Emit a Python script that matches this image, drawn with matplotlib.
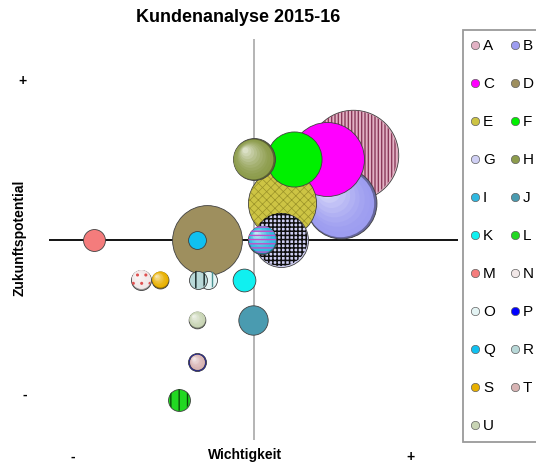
import numpy as np
import matplotlib.pyplot as plt
from matplotlib.lines import Line2D
from matplotlib import transforms
from matplotlib import colors as mcolors

plt.rcParams['font.family'] = ['Liberation Sans', 'DejaVu Sans']

# Kunden mit Wichtigkeit (x), Zukunftspotential (y) und Umsatz (Blasengröße)
kunden = ['A', 'B', 'C', 'D', 'E', 'F', 'G', 'H', 'I', 'J', 'K',
          'L', 'M', 'N', 'O', 'P', 'Q', 'R', 'S', 'T', 'U']
wichtigkeit = [2.43, 2.14, 1.80, -1.14, 0.70, 0.99, 0.67, 0.01, 0.21, -0.01, -0.23,
               -1.82, -3.90, -2.75, -1.11, -1.38, -1.38, -1.36, -2.29, -1.38, -1.38]
potential = [2.1, 0.9, 2.0, 0.0, 0.9, 2.0, 0.0, 2.0, 0.0, -2.0, -1.0,
             -4.0, 0.0, -1.0, -1.0, -3.05, 0.0, -1.0, -1.0, -3.05, -2.0]
umsatz = [205, 126, 137, 122, 116, 76, 73, 44, 20, 21.6, 13,
          12, 12, 10, 8.1, 8.1, 8, 8.1, 7.2, 6.1, 7]

# Darstellung: Farbe, Muster, Musterfarbe, Kugel-Effekt
farben = ['#e2b2c4', '#9d9df0', '#ff00ff', '#9e8f5e', '#cdc444', '#00f000', '#d0d0f4',
          '#8d9c4c', '#30b8e0', '#4a9bb0', '#10f0f0', '#22d822', '#f47c7c', '#f2e8e8',
          '#e4f4f4', '#0000ff', '#10c0f0', '#b8d8d8', '#e8b000', '#d8b4b4', '#c8d4b4']
muster = ['|||||', None, None, None, 'xxxx', None, '++++', None, '----', None, None,
          '||', None, '..', '||', None, None, '||', None, None, None]
musterfarbe = ['#8a3a5a', None, None, None, '#9a9228', None, '#101010', None, '#c050c8', None, None,
               '#0a4a0a', None, '#e05050', '#4a9090', None, None, '#102020', None, None, None]
musterbreite = [1.0, 0, 0, 0, 0.5, 0, 1.1, 0, 1.0, 0, 0,
                1.0, 0, 1.0, 1.0, 0, 0, 1.0, 0, 0, 0]
kugel = [False, True, False, False, False, False, False, True, True, False, False,
         False, False, True, False, False, False, False, True, True, True]

fig = plt.figure(figsize=(5.36, 4.70), dpi=100)
ax = fig.add_axes([49 / 536, 1 - 440 / 470, 409 / 536, 401 / 470])
ax.set_xlim(-5, 5)
ax.set_ylim(-5, 5)
for sp in ax.spines.values():
    sp.set_visible(False)

ax.axhline(0, color='black', lw=1.3, zorder=1)
ax.axvline(0, color='#a8a8a8', lw=1.2, zorder=1)

skala = 20.7


def zeichne_kugel(x, y, s, farbe, z):
    base = np.array(mcolors.to_rgb(farbe))
    r_pt = np.sqrt(s) / 2
    ax.scatter([x], [y], s=s, color=base * 0.65, edgecolors='#404040', linewidths=0.6, zorder=z)
    n = 10
    for k in range(n):
        f = 0.95 - 0.9 * k / n
        c = base + (1 - base) * (k / n) ** 1.5 * 0.8
        d = (1 - f) * r_pt * 0.5 / 72
        off = transforms.ScaledTranslation(-d, d, fig.dpi_scale_trans)
        ax.scatter([x], [y], s=s * f ** 2, color=c, linewidths=0,
                   zorder=z + 0.01 * (k + 1), transform=ax.transData + off)


# Reihenfolge wie die Datenreihen: spätere Kunden liegen oben
for i in range(len(kunden)):
    z = 2 + i * 0.2
    s = umsatz[i] * skala
    if kugel[i]:
        zeichne_kugel(wichtigkeit[i], potential[i], s, farben[i], z)
    else:
        ax.scatter([wichtigkeit[i]], [potential[i]], s=s, color=farben[i],
                   edgecolors='#404040', linewidths=0.6, zorder=z)
    if muster[i]:
        with plt.rc_context({'hatch.color': musterfarbe[i], 'hatch.linewidth': musterbreite[i]}):
            ax.scatter([wichtigkeit[i]], [potential[i]], s=s * 0.97, facecolors=(1, 1, 1, 0),
                       edgecolors=musterfarbe[i], linewidths=0, hatch=muster[i], zorder=z + 0.15)

ax.set_xticks([-4.41, 3.83], ['-', '+'], fontweight='bold', fontsize=10)
ax.set_yticks([4.0, -3.83], ['+', '-'], fontweight='bold', fontsize=10)
ax.tick_params(axis='x', length=0, pad=7)
ax.tick_params(axis='y', length=0, pad=16)

fig.text(238.5 / 536, 1 - 17 / 470, 'Kundenanalyse 2015-16', ha='center', va='center',
         fontsize=13, fontweight='bold')
fig.text(245 / 536, 1 - 455 / 470, 'Wichtigkeit', ha='center', va='center',
         fontsize=10, fontweight='bold')
fig.text(20 / 536, 1 - 238 / 470, 'Zukunftspotential', ha='center', va='center',
         rotation=90, fontsize=10, fontweight='bold')

# Legende zeilenweise (A B / C D ...), matplotlib füllt spaltenweise
griffe = [Line2D([], [], ls='none', marker='o', markersize=6, markerfacecolor=farben[i],
                 markeredgecolor='#606060', markeredgewidth=0.5) for i in range(len(kunden))]
ordnung = list(range(0, len(kunden), 2)) + list(range(1, len(kunden), 2))
leg = fig.legend([griffe[i] for i in ordnung], [kunden[i] for i in ordnung], ncol=2,
                 loc='upper left', bbox_to_anchor=(463 / 536, 1 - 30 / 470), borderaxespad=0,
                 frameon=True, fancybox=False, edgecolor='#808080', fontsize=11,
                 labelspacing=1.57, handlelength=0.4, handletextpad=0.3, columnspacing=1.1,
                 borderpad=0.6)
leg.get_frame().set_linewidth(1.3)

fig.savefig('out.png', dpi=100)
